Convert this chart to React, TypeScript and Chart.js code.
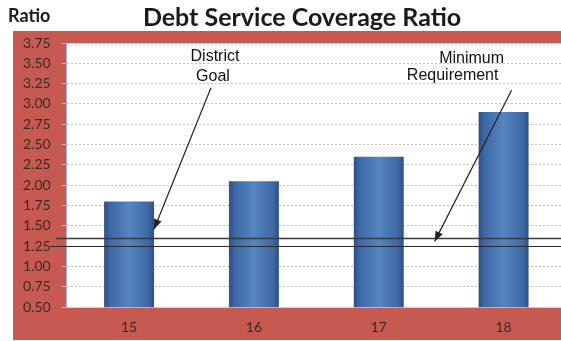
import React, { useEffect, useRef } from "react";
import { Chart, registerables } from "chart.js";

Chart.register(...registerables);

const categories = ["15", "16", "17", "18"];
const ratioValues = [1.8, 2.05, 2.35, 2.9];
const yTickValues = [0.5, 0.75, 1.0, 1.25, 1.5, 1.75, 2.0, 2.25, 2.5, 2.75, 3.0, 3.25, 3.5, 3.75];
const referenceValues = [1.35, 1.25]; // District Goal, Minimum Requirement
const annotationLabels = [
  ["District", "Goal"],
  ["Minimum", "Requirement"],
];
const chartTitle = "Debt Service Coverage Ratio";
const axisTitle = "Ratio";

const RED = "#c65a50";

const backgroundPlugin = {
  id: "bgPanel",
  beforeDraw(chart: any) {
    const { ctx, chartArea: a } = chart;
    ctx.save();
    ctx.fillStyle = RED;
    ctx.fillRect(13, 31, chart.width - 13, 340 - 31);
    ctx.fillStyle = "#ffffff";
    ctx.fillRect(a.left, a.top, a.right - a.left, a.bottom - a.top);
    ctx.restore();
  },
};

const referenceLinePlugin = {
  id: "refLines",
  afterDatasetsDraw(chart: any) {
    const { ctx } = chart;
    const y = chart.scales.y;
    const starts = [56, 50];
    ctx.save();
    referenceValues.forEach((v, i) => {
      const py = Math.round(y.getPixelForValue(v)) + 0.5;
      ctx.beginPath();
      ctx.strokeStyle = i === 0 ? "#3a3a3a" : "#2a2a2a";
      ctx.lineWidth = i === 0 ? 1.5 : 1.1;
      ctx.moveTo(starts[i], py);
      ctx.lineTo(chart.width, py);
      ctx.stroke();
    });
    ctx.restore();
  },
};

function drawArrow(ctx: any, x0: number, y0: number, x1: number, y1: number) {
  ctx.beginPath();
  ctx.moveTo(x0, y0);
  ctx.lineTo(x1, y1);
  ctx.stroke();
  const ang = Math.atan2(y1 - y0, x1 - x0);
  const len = 10;
  const hw = 4;
  const bx = x1 - len * Math.cos(ang);
  const by = y1 - len * Math.sin(ang);
  ctx.beginPath();
  ctx.moveTo(x1, y1);
  ctx.lineTo(bx + hw * Math.sin(ang), by - hw * Math.cos(ang));
  ctx.lineTo(bx - hw * Math.sin(ang), by + hw * Math.cos(ang));
  ctx.closePath();
  ctx.fill();
}

const textPlugin = {
  id: "texts",
  afterDraw(chart: any) {
    const { ctx } = chart;
    const xs = chart.scales.x;
    const ys = chart.scales.y;
    const P = (i: number, v: number) => [xs.getPixelForValue(i), ys.getPixelForValue(v)];
    ctx.save();
    // titles
    ctx.fillStyle = "#1a1a1a";
    ctx.textBaseline = "middle";
    ctx.textAlign = "center";
    ctx.font = "bold 25px Lato";
    ctx.fillText(chartTitle, 302, 18);
    ctx.textAlign = "left";
    ctx.font = "bold 18px Lato";
    ctx.fillText(axisTitle, 8, 16);

    // annotation texts
    ctx.font = "16px 'Liberation Sans', Arial, sans-serif";
    ctx.textAlign = "center";
    ctx.fillStyle = "#111";
    const textPos = [
      [[0.688, 3.585], [0.672, 3.335]],
      [[2.744, 3.555], [2.592, 3.345]],
    ];
    annotationLabels.forEach((lines, k) => {
      lines.forEach((t, j) => {
        const [px, py] = P(textPos[k][j][0], textPos[k][j][1]);
        ctx.fillText(t, px, py);
      });
    });

    // arrows
    ctx.strokeStyle = "#222";
    ctx.fillStyle = "#222";
    ctx.lineWidth = 1.2;
    const arrows = [
      [0.656, 3.2, 0.2, 1.46],
      [3.064, 3.17, 2.448, 1.31],
    ];
    arrows.forEach(([i0, v0, i1, v1]) => {
      const [x0, y0] = P(i0, v0);
      const [x1, y1] = P(i1, v1);
      drawArrow(ctx, x0, y0, x1, y1);
    });
    ctx.restore();
  },
};

export default function App() {
  const ref = useRef<HTMLCanvasElement | null>(null);

  useEffect(() => {
    if (!ref.current) return;
    const chart = new Chart(ref.current, {
      type: "bar",
      data: {
        labels: categories,
        datasets: [
          {
            label: "Ratio",
            data: ratioValues,
            backgroundColor: (c: any) => {
              const chart = c.chart;
              const xs = chart.scales && chart.scales.x;
              if (c.type !== "data" || !xs || !chart.chartArea) return "#4a78b5";
              const cx = xs.getPixelForValue(c.dataIndex);
              const hw = (xs.getPixelForValue(1) - xs.getPixelForValue(0)) * 0.2;
              const g = chart.ctx.createLinearGradient(cx - hw, 0, cx + hw, 0);
              g.addColorStop(0, "#2c4f86");
              g.addColorStop(0.12, "#3e69a6");
              g.addColorStop(0.5, "#5585c2");
              g.addColorStop(0.88, "#3e69a6");
              g.addColorStop(1, "#2c4f86");
              return g;
            },
            borderWidth: 0,
            categoryPercentage: 1,
            barPercentage: 0.4,
          },
        ],
      },
      options: {
        animation: false,
        responsive: false,
        layout: { padding: { left: 12, right: 0, top: 43, bottom: -7 } },
        plugins: {
          legend: { display: false },
          title: { display: false },
          tooltip: { enabled: false },
        },
        scales: {
          x: {
            grid: { display: false, drawTicks: false },
            border: { display: true, color: "#d0d0d0" },
            ticks: {
              color: "#3a2a2a",
              font: { family: "Lato", size: 14 },
              padding: 12,
            },
          },
          y: {
            min: 0.5,
            max: 3.75,
            afterBuildTicks: (axis: any) => {
              axis.ticks = yTickValues.map((v) => ({ value: v }));
            },
            grid: {
              color: "rgba(140,140,140,0.55)",
              tickColor: "#b8b8b8",
              tickLength: 5,
              drawTicks: true,
            } as any,
            border: { display: true, color: "#a8b6d6", dash: [2, 2] },
            ticks: {
              autoSkip: false,
              color: "#3a2a2a",
              font: { family: "Lato", size: 14 },
              padding: 11,
              callback: (v: any) => Number(v).toFixed(2),
            },
          },
        },
      } as any,
      plugins: [backgroundPlugin, referenceLinePlugin, textPlugin],
    });
    return () => chart.destroy();
  }, []);

  return (
    <div
      style={{
        position: "absolute",
        left: 0,
        top: 0,
        width: 561,
        height: 341,
        overflow: "hidden",
      }}
    >
      <canvas ref={ref} width={566} height={341} />
    </div>
  );
}
